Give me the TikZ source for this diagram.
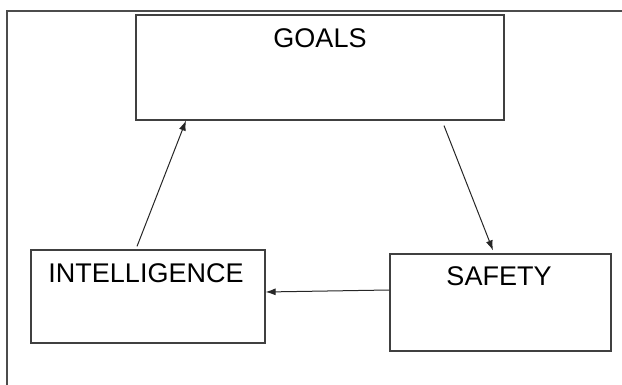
\documentclass[tikz,border=0pt]{standalone}
\usepackage{fontspec}
\setmainfont{Liberation Sans}
\usetikzlibrary{arrows.meta,calc}
\tikzset{
    block/.style = {draw=black!75, line width=1.2pt, rectangle, inner sep=0pt},
    blocktext/.style = {inner sep=0pt, anchor=north, yshift=-14pt,
        font=\fontsize{27}{32}\selectfont},
    arrow/.style = {draw=black!85, line width=1pt, -{Latex[length=10pt,width=7pt]}},
    frame/.style = {draw=black!70, line width=1.2pt}
}
\begin{document}
\begin{tikzpicture}[x=1pt,y=-1pt]
    \useasboundingbox (0,0) rectangle (622,385);
    \draw[frame] (7,385) -- (7,11) -- (622,11);
    \node[block,minimum width=368pt,minimum height=105pt] (goals) at (320,67.5) {};
    \node[block,minimum width=234pt,minimum height=93pt] (intel) at (148,296.5) {};
    \node[block,minimum width=221pt,minimum height=97pt] (safety) at (500.5,302.5) {};
    \node[blocktext] (goalstext) at (goals.north) {GOALS};
    \node[blocktext,xshift=-2pt] (inteltext) at (intel.north) {INTELLIGENCE};
    \node[blocktext,xshift=-1.5pt,yshift=1pt] (safetytext) at (safety.north) {SAFETY};
    \draw[arrow] ([xshift=-11pt,yshift=3pt]intel.north) -- ([xshift=-134pt]goals.south);
    \draw[arrow] ([xshift=124pt,yshift=-5pt]goals.south) -- ([xshift=-7.5pt,yshift=3pt]safety.north);
    \draw[arrow] ([yshift=12.5pt]safety.west) -- ([yshift=4.5pt]intel.east);
\end{tikzpicture}
\end{document}
